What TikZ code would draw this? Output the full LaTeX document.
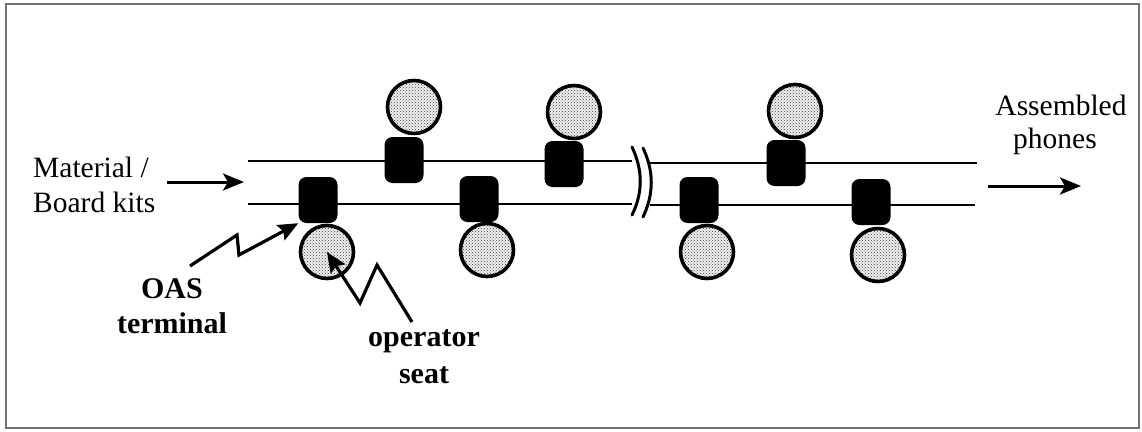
\documentclass[tikz,border=0pt]{standalone}
\usepackage{fontspec}
\setmainfont{Liberation Serif}
\usetikzlibrary{arrows.meta,patterns}
\begin{document}
\begin{tikzpicture}[x=1pt,y=-1pt,
  terminal/.style={rectangle,fill=black,rounded corners=8pt,minimum width=39pt,minimum height=46pt,inner sep=0pt},
  seat/.style={circle,minimum size=53pt,inner sep=0pt,
    preaction={fill=gray!12},
    preaction={pattern=crosshatch dots,pattern color=black!75},
    draw=black,line width=3.6pt},
  conveyor/.style={line width=2.6pt},
  brk/.style={line width=3pt,line cap=round},
  flow/.style={line width=3pt,-{Stealth[length=21pt,width=17pt,inset=5pt]}},
  bolt/.style={line width=3.2pt,line join=miter,-{Stealth[length=20pt,width=17pt,inset=3pt]}},
  plain/.style={inner sep=0pt,font=\fontsize{29.5}{35}\selectfont},
  strong/.style={inner sep=0pt,font=\fontsize{30}{35}\selectfont\bfseries},
  frame/.style={draw=black!55,line width=1.3pt}
]
\useasboundingbox (0,0) rectangle (1142,431);
\draw[frame] (6,4) rectangle (1139,428);

% conveyor lines with a break
\coordinate (uL) at (248,161); \coordinate (uM1) at (632,161);
\coordinate (uM2) at (650,163); \coordinate (uR) at (977,163);
\coordinate (lL) at (248,204); \coordinate (lM1) at (632,204);
\coordinate (lM2) at (650,205); \coordinate (lR) at (975,205);
\draw[conveyor] (uL) -- (uM1);
\draw[conveyor] (uM2) -- (uR);
\draw[conveyor] (lL) -- (lM1);
\draw[conveyor] (lM2) -- (lR);

% break marks
\coordinate (k1a) at (632,147); \coordinate (k1b) at (632,215);
\coordinate (k2a) at (643,148); \coordinate (k2b) at (643,217);
\draw[brk] (k1a) .. controls (643,170) and (643,193) .. (k1b);
\draw[brk] (k2a) .. controls (654,171) and (654,194) .. (k2b);

% OAS terminals
\node[terminal] (b1) at (318,200) {};
\node[terminal] (b2) at (404,160) {};
\node[terminal] (b3) at (479,199) {};
\node[terminal] (b4) at (564,164) {};
\node[terminal] (b5) at (699,200) {};
\node[terminal] (b6) at (786,163) {};
\node[terminal] (b7) at (871,202) {};

% operator seats
\node[seat] (c1) at (327,252) {};
\node[seat] (c2) at (414,107) {};
\node[seat] (c3) at (487,250) {};
\node[seat] (c4) at (574,112) {};
\node[seat] (c5) at (707,252) {};
\node[seat] (c6) at (795,111) {};
\node[seat] (c7) at (878,255) {};

% input and output
\node[plain,anchor=base west] (in1) at (33,177) {Material /};
\node[plain,anchor=base west] (in2) at (33,212) {Board kits};
\coordinate (inA) at (167,182); \coordinate (inB) at (244,182);
\draw[flow] (inA) -- (inB);

\node[plain,anchor=base] (out1) at (1061,115) {Assembled};
\node[plain,anchor=base] (out2) at (1055,148) {phones};
\coordinate (outA) at (988,186); \coordinate (outB) at (1081,186);
\draw[flow] (outA) -- (outB);

% labels with lightning pointers
\node[strong,anchor=base] (oas1) at (172,298) {OAS};
\node[strong,anchor=base] (oas2) at (172,333) {terminal};
\coordinate (oasS) at (190,266);
\draw[bolt] (oasS) -- (237,235) -- (239,255) -- (b1.south west);

\node[strong,anchor=base] (op1) at (424,346) {operator};
\node[strong,anchor=base] (op2) at (424,383) {seat};
\coordinate (opS) at (412,322);
\draw[bolt] (opS) -- (377,265) -- (360,303) -- (c1.center);
\end{tikzpicture}
\end{document}
